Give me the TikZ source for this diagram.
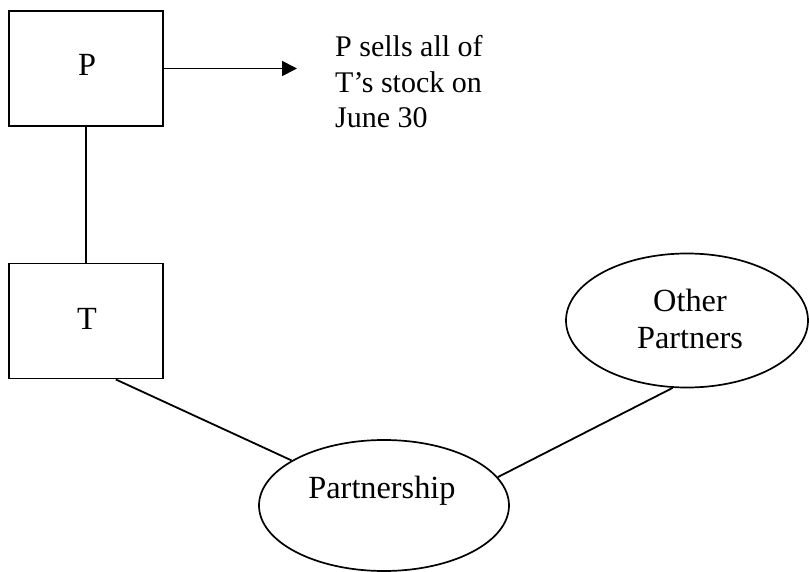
\documentclass[tikz,border=0pt]{standalone}
\usepackage{fontspec}
\setmainfont{Liberation Serif}
\usetikzlibrary{shapes.geometric,arrows.meta}
\begin{document}
\begin{tikzpicture}[x=1pt,y=-1pt,
  every node/.style={font=\fontsize{32.3}{36}\selectfont},
  box/.style={draw,line width=1.9pt,minimum width=154pt,minimum height=115pt,inner sep=0pt},
  oval/.style={draw,ellipse,line width=1.7pt,inner sep=0pt},
  link/.style={line width=1.8pt},
  txt/.style={inner sep=0pt,align=left}]
\useasboundingbox (0,0) rectangle (809,572);
\node[box] (P) at (86,68.5) {};
\node[anchor=base] (Plab) at (87,76) {P};
\node[box] (T) at (86,321) {};
\node[anchor=base] (Tlab) at (87,330) {T};
\node[oval,minimum width=242pt,minimum height=134pt] (other) at (687,320.5) {};
\node[txt,align=center,anchor=base] (otherlab) at (690,348) {Other\\Partners};
\node[oval,minimum width=250pt,minimum height=131pt] (pship) at (384,505.5) {};
\node[anchor=base,inner sep=0pt] (pshiplab) at (382,498) {Partnership};
\node[txt,anchor=base west,font=\fontsize{30}{35.5}\selectfont] (sells) at (335,128) {P sells all of\\T’s stock on\\June 30};
\coordinate (arrowend) at (297,68.5);
\draw[link] (P.south) -- (T.north);
\draw[link,-{Triangle[length=15pt,width=15pt]}] (P.east) -- (arrowend);
\draw[link] (T.-63.4) -- (pship.154.2);
\draw[link] (pship.14.5) -- (other.258);
\end{tikzpicture}
\end{document}
